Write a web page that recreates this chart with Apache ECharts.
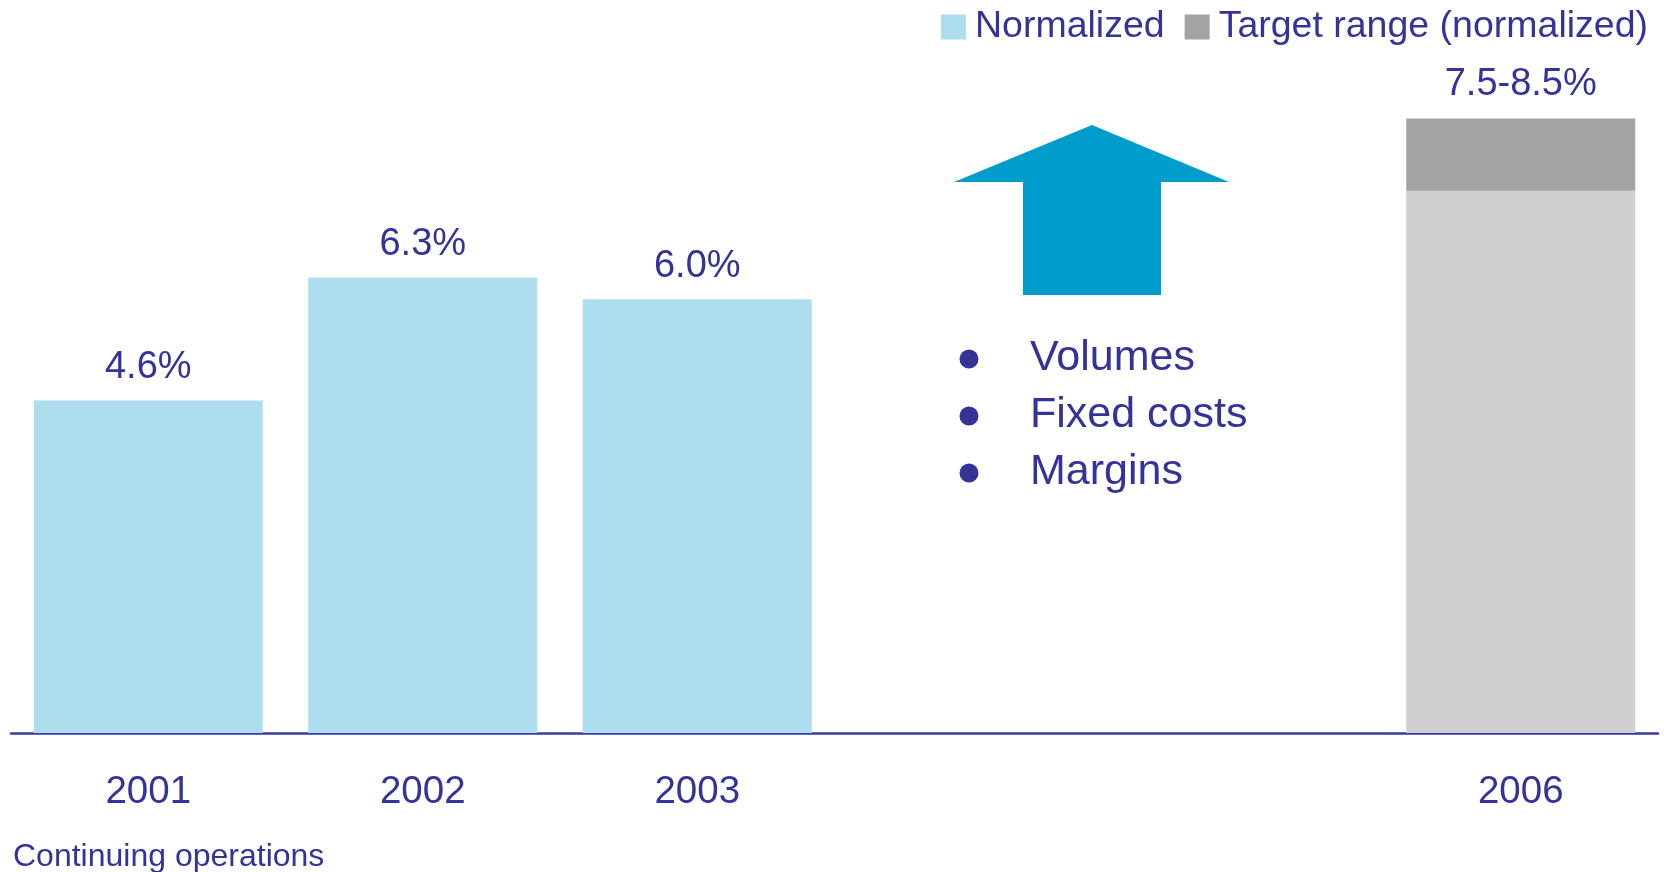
<!DOCTYPE html>
<html>
<head>
<meta charset="utf-8">
<title>Normalized margin</title>
<script src="https://cdn.jsdelivr.net/npm/echarts@6/dist/echarts.min.js"></script>
<style>
  html, body { margin: 0; padding: 0; background: #fff; }
  #chart { width: 1664px; height: 872px; }
</style>
</head>
<body>
<div id="chart"></div>
<script>
// chart data
const years = ['2001', '2002', '2003', '', '', '2006']
const normalized = [4.6, 6.3, 6.0, null, null, null]
const targetLow = [null, null, null, null, null, 7.5]
const targetHigh = [null, null, null, null, null, 8.5]
const drivers = ['Volumes', 'Fixed costs', 'Margins']
const footNote = 'Continuing operations'

const textColor = '#333399'
const font = "'Liberation Sans', Arial, sans-serif"

const chart = echarts.init(document.getElementById('chart'))

// bullets beside the arrow
const bulletGraphics = []
drivers.forEach((name, i) => {
  const y = 359 + i * 57
  bulletGraphics.push({
    type: 'circle',
    shape: { cx: 969, cy: y, r: 9.5 },
    style: { fill: textColor }
  })
  bulletGraphics.push({
    type: 'text',
    x: 1030,
    y: y - 1,
    style: {
      text: name,
      font: '43px ' + font,
      fill: textColor,
      verticalAlign: 'middle'
    }
  })
})

const option = {
  animation: false,
  textStyle: { fontFamily: font },
  legend: {
    data: ['Normalized', 'Target range (normalized)'],
    right: 16,
    top: 8,
    padding: 0,
    icon: 'rect',
    itemWidth: 25,
    itemHeight: 25,
    itemGap: 20,
    selectedMode: false,
    textStyle: {
      color: textColor,
      fontSize: 37.5,
      fontFamily: font,
      padding: [0, 0, 0, 4]
    }
  },
  grid: { left: 11, right: 6, top: 10, bottom: 139 },
  xAxis: {
    type: 'category',
    data: years,
    axisTick: { show: false },
    axisLine: { lineStyle: { color: '#3a3aa6', width: 2.5 } },
    axisLabel: { color: textColor, fontSize: 38.5, margin: 40, fontFamily: font }
  },
  yAxis: {
    type: 'value',
    min: 0,
    max: 10,
    show: false,
    splitLine: { show: false }
  },
  series: [
    {
      name: 'Normalized',
      type: 'bar',
      stack: 'm',
      barWidth: 229,
      data: normalized,
      itemStyle: { color: '#addeee' },
      label: {
        show: true,
        position: 'top',
        distance: 14,
        color: textColor,
        fontSize: 38,
        fontFamily: font,
        formatter: p => p.value.toFixed(1) + '%'
      }
    },
    {
      name: 'Target base',
      type: 'bar',
      stack: 'm',
      barWidth: 229,
      data: targetLow,
      itemStyle: { color: '#cfcfcf' }
    },
    {
      name: 'Target range (normalized)',
      type: 'bar',
      stack: 'm',
      barWidth: 229,
      data: targetHigh.map((v, i) => (v == null ? null : +(v - targetLow[i]).toFixed(2))),
      itemStyle: { color: '#a3a3a3' },
      label: {
        show: true,
        position: 'top',
        distance: 15,
        color: textColor,
        fontSize: 38,
        fontFamily: font,
        formatter: p => targetLow[p.dataIndex].toFixed(1) + '-' + targetHigh[p.dataIndex].toFixed(1) + '%'
      }
    }
  ],
  graphic: [
    {
      // up arrow
      type: 'polygon',
      shape: {
        points: [[1092, 125], [1229, 182], [1161, 182], [1161, 295], [1023, 295], [1023, 182], [954, 182]]
      },
      style: { fill: '#009ccc' }
    },
    ...bulletGraphics,
    {
      type: 'text',
      x: 13,
      y: 857,
      style: {
        text: footNote,
        font: '32px ' + font,
        fill: textColor,
        verticalAlign: 'middle'
      }
    }
  ]
}

chart.setOption(option)
</script>
</body>
</html>
